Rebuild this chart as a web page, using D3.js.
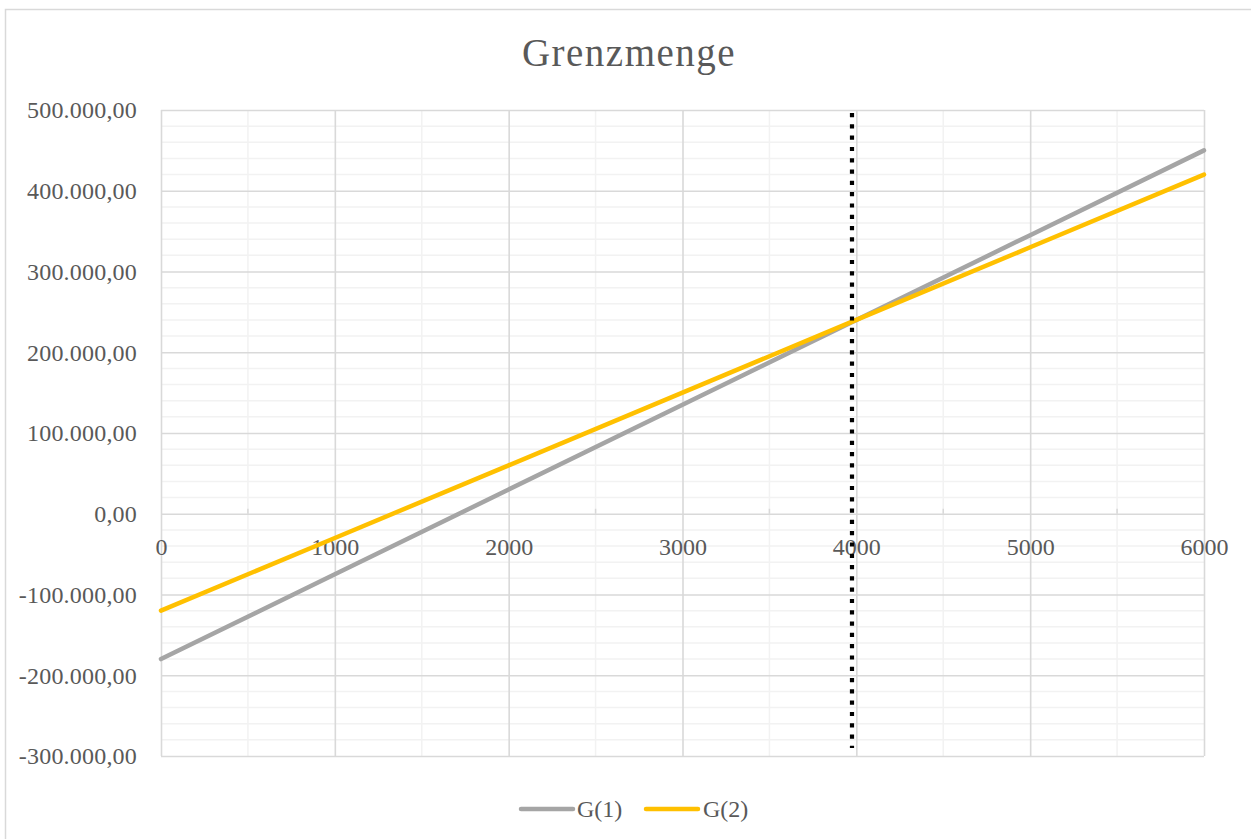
<!DOCTYPE html>
<html><head><meta charset="utf-8">
<script src="https://cdn.jsdelivr.net/npm/d3@7/dist/d3.min.js"></script>
<style>
html,body{margin:0;padding:0;background:#fff;}
svg{display:block;}
text{font-family:"Liberation Serif","Times New Roman",serif;fill:#595959;}
</style></head>
<body>
<svg id="c" width="1251" height="839"></svg>
<script>
const chartTitle = "Grenzmenge";
const xValues = [0, 1000, 2000, 3000, 4000, 5000, 6000];
const g1Values = [-180000, -75000, 30000, 135000, 240000, 345000, 450000];
const g2Values = [-120000, -30000, 60000, 150000, 240000, 330000, 420000];
const seriesNames = ["G(1)", "G(2)"];
const dropX = [3975, 3975];
const dropY = [500000, -290000];
const xTicks = [0, 1000, 2000, 3000, 4000, 5000, 6000];
const yTicks = [-300000, -200000, -100000, 0, 100000, 200000, 300000, 400000, 500000];

const svg = d3.select("#c");
const m = {left:161, right:1204, top:110, bottom:756};
const x = d3.scaleLinear().domain([0, 6000]).range([m.left, m.right]);
const y = d3.scaleLinear().domain([-300000, 500000]).range([m.bottom, m.top]);
const de = d3.formatLocale({decimal:",", thousands:".", grouping:[3], currency:["","€"], minus:"-"});
const fmt = de.format(",.2f");

// chart border
svg.append("rect").attr("x",5.5).attr("y",9.5).attr("width",1400).attr("height",1000)
  .attr("fill","none").attr("stroke","#D9D9D9").attr("stroke-width",1.5);

// minor grid
const g = svg.append("g");
const minorY = d3.range(-300000, 500001, 20000).filter(v => v % 100000 !== 0);
const minorX = d3.range(500, 6000, 1000);
g.selectAll(".my").data(minorY).join("line")
  .attr("x1", m.left).attr("x2", m.right).attr("y1", d=>y(d)).attr("y2", d=>y(d))
  .attr("stroke","#F2F2F2").attr("stroke-width",1.5);
g.selectAll(".mx").data(minorX).join("line")
  .attr("x1", d=>x(d)).attr("x2", d=>x(d)).attr("y1", m.top).attr("y2", m.bottom)
  .attr("stroke","#F2F2F2").attr("stroke-width",1.5);

// major grid via axes
const yGrid = svg.append("g").attr("transform",`translate(${m.left},0)`)
  .call(d3.axisLeft(y).tickValues(yTicks).tickSize(-(m.right-m.left)).tickFormat(""));
yGrid.select(".domain").remove();
yGrid.selectAll("line").attr("stroke","#D9D9D9").attr("stroke-width",1.6);
const xGrid = svg.append("g").attr("transform",`translate(0,${m.bottom})`)
  .call(d3.axisBottom(x).tickValues(xTicks).tickSize(-(m.bottom-m.top)).tickFormat(""));
xGrid.select(".domain").remove();
xGrid.selectAll("line").attr("stroke","#D9D9D9").attr("stroke-width",1.6);

// minor tick marks on zero axis
svg.append("g").selectAll("line").data(minorX).join("line")
  .attr("x1", d=>x(d)).attr("x2", d=>x(d)).attr("y1", y(0)-5).attr("y2", y(0))
  .attr("stroke","#D9D9D9").attr("stroke-width",1.5);

// y labels
const yAx = svg.append("g").attr("transform",`translate(${m.left},0)`)
  .call(d3.axisLeft(y).tickValues(yTicks).tickSize(0).tickPadding(24).tickFormat(fmt));
yAx.select(".domain").remove();
yAx.selectAll("text").attr("font-size",24).attr("fill","#595959")
  .attr("font-family",'"Liberation Serif",serif').attr("dy","0.33em").attr("letter-spacing","0.2px");

// x labels on zero line
const xAx = svg.append("g").attr("transform",`translate(0,${y(0)})`)
  .call(d3.axisBottom(x).tickValues(xTicks).tickSize(0).tickPadding(0).tickFormat(d3.format("d")));
xAx.select(".domain").remove();
xAx.selectAll("text").attr("font-size",24).attr("fill","#595959")
  .attr("font-family",'"Liberation Serif",serif').attr("dy",null).attr("y",41);

// series
const line = d3.line().x(d=>x(d[0])).y(d=>y(d[1]));
const s1 = xValues.map((v,i)=>[v, g1Values[i]]);
const s2 = xValues.map((v,i)=>[v, g2Values[i]]);
svg.append("path").datum(s1).attr("d",line).attr("fill","none")
  .attr("stroke","#A5A5A5").attr("stroke-width",4.5).attr("stroke-linecap","round");
svg.append("path").datum(s2).attr("d",line).attr("fill","none")
  .attr("stroke","#FFC000").attr("stroke-width",4.5).attr("stroke-linecap","round");

// dotted drop line
svg.append("path").datum(dropX.map((v,i)=>[v, dropY[i]])).attr("d",line)
  .attr("fill","none").attr("stroke","#000").attr("stroke-width",4.2)
  .attr("stroke-dasharray","4.2,7.1").attr("stroke-dashoffset",-3);

// title
svg.append("text").attr("x",629).attr("y",66).attr("text-anchor","middle")
  .attr("font-size",39).attr("letter-spacing","1.5px").text(chartTitle);

// legend
const leg = [{name:seriesNames[0], color:"#A5A5A5", x1:521, tx:577},
             {name:seriesNames[1], color:"#FFC000", x1:646, tx:703}];
leg.forEach(l=>{
  svg.append("line").attr("x1",l.x1).attr("x2",l.x1+52).attr("y1",809).attr("y2",809)
    .attr("stroke",l.color).attr("stroke-width",4.5).attr("stroke-linecap","round");
  svg.append("text").attr("x",l.tx).attr("y",817).attr("font-size",24).text(l.name);
});
</script>
</body></html>
